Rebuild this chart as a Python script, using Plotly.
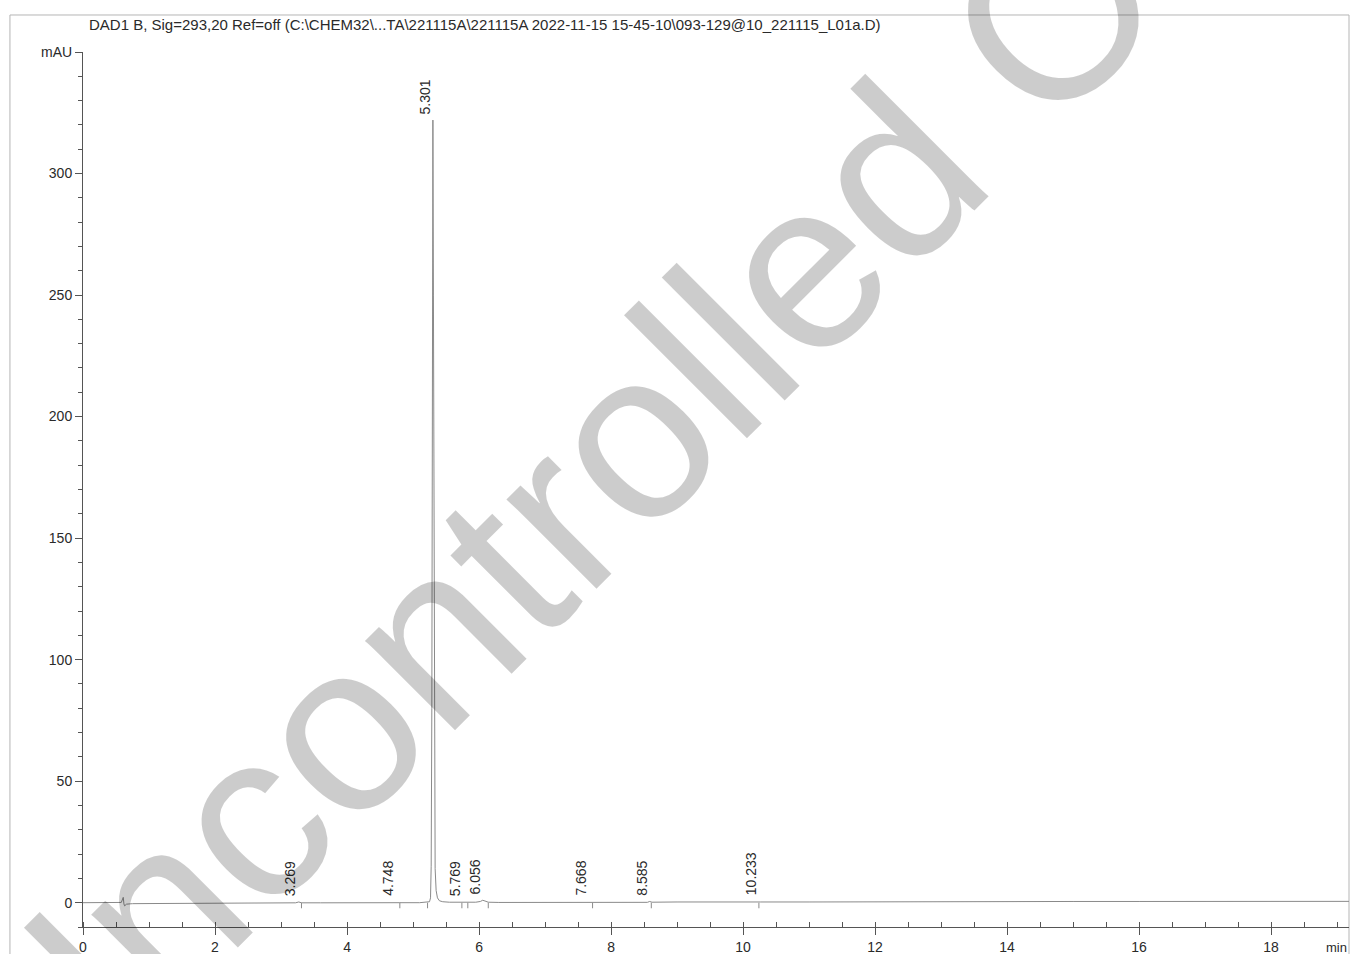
import plotly.graph_objects as go

# ---- data ----
time_min = [0.0, 0.50, 0.58, 0.60, 0.61, 0.62, 0.63, 0.66, 0.75, 1.0, 1.5, 2.0, 2.5, 3.0,
            3.22, 3.269, 3.31, 3.6, 4.2, 4.70, 4.748, 4.80, 5.10, 5.22, 5.25, 5.265, 5.275,
            5.285, 5.293, 5.301, 5.309, 5.317, 5.325, 5.335, 5.35, 5.37, 5.40, 5.45, 5.55,
            5.70, 5.769, 5.80, 5.95, 6.02, 6.056, 6.09, 6.14, 6.30, 7.0, 7.62, 7.668, 7.72,
            8.2, 8.55, 8.585, 8.62, 9.0, 9.5, 10.20, 10.233, 10.26, 11.0, 12.0, 13.0, 14.0,
            15.0, 16.0, 17.0, 18.0, 19.18]
signal_mau = [0.0, 0.0, 0.1, 1.5, 2.2, -0.5, -1.3, -0.6, -0.4, -0.35, -0.3, -0.2, -0.15, -0.1,
              -0.05, 0.3, -0.05, -0.05, 0.0, 0.0, 0.3, 0.0, 0.0, 0.1, 0.4, 2.0, 15.0,
              80.0, 230.0, 322.0, 250.0, 120.0, 45.0, 14.0, 5.0, 2.0, 0.8, 0.4, 0.2,
              0.15, 0.35, 0.2, 0.2, 0.5, 1.0, 0.7, 0.2, 0.1, 0.05, 0.05, 0.3, 0.05,
              0.1, 0.15, 0.5, 0.2, 0.3, 0.4, 0.3, 0.6, 0.3, 0.3, 0.4, 0.4, 0.45,
              0.5, 0.5, 0.5, 0.55, 0.55]

peak_rt = [3.269, 4.748, 5.301, 5.769, 6.056, 7.668, 8.585, 10.233]
peak_height = [0.3, 0.3, 322.0, 0.35, 1.0, 0.3, 0.5, 0.6]

marker_rt = [3.31, 4.80, 5.22, 5.74, 5.83, 6.14, 7.72, 8.61, 10.24]

y_tick_vals = [0, 50, 100, 150, 200, 250, 300, 350]
y_tick_text = ["0", "50", "100", "150", "200", "250", "300", "mAU"]
x_tick_vals = [0, 2, 4, 6, 8, 10, 12, 14, 16, 18]

title_text = ("DAD1 B, Sig=293,20 Ref=off (C:\\CHEM32\\...TA\\221115A\\221115A "
              "2022-11-15 15-45-10\\093-129@10_221115_L01a.D)")
watermark_text = "Uncontrolled Copy"

FONT = "Liberation Sans, Arial, sans-serif"

fig = go.Figure()

fig.add_trace(go.Scatter(x=time_min, y=signal_mau, mode="lines",
                         line=dict(color="#8a8a8a", width=1), hoverinfo="skip"))

# baseline markers (short ticks below baseline)
mx, my = [], []
for t in marker_rt:
    mx += [t, t, None]
    my += [0.0, -2.3, None]
fig.add_trace(go.Scatter(x=mx, y=my, mode="lines",
                         line=dict(color="#8a8a8a", width=1), hoverinfo="skip"))

# retention time labels
for rt, h in zip(peak_rt, peak_height):
    fig.add_annotation(x=rt, y=h, xref="x", yref="y", text=f"{rt:.3f}",
                       textangle=-90, xanchor="right", yanchor="bottom",
                       xshift=2, yshift=4, showarrow=False,
                       font=dict(family=FONT, size=14, color="#2a2a2a"))

# watermark
fig.add_annotation(x=9.13, y=214.4, xref="x", yref="y", text=watermark_text,
                   textangle=-45, xanchor="center", yanchor="middle", showarrow=False,
                   font=dict(family=FONT, size=240, color="rgba(0,0,0,0.2)"))

# title
fig.add_annotation(x=0.0035, y=1.031, xref="paper", yref="paper", text=title_text,
                   xanchor="left", yanchor="middle", showarrow=False,
                   font=dict(family=FONT, size=15, color="#2a2a2a"))

# unit label on x axis
fig.add_annotation(x=1.0, y=-10, xref="paper", yref="y", text="min",
                   xanchor="right", yanchor="top", yshift=-11, showarrow=False,
                   font=dict(family=FONT, size=13, color="#2a2a2a"))

# outer frame
fig.add_shape(type="rect", xref="paper", yref="paper",
              x0=-0.0577, x1=1.0, y0=-0.2, y1=1.0423,
              line=dict(color="#b5b5b5", width=1), layer="below")

fig.update_layout(
    width=1351, height=954,
    margin=dict(l=83, r=2, t=52, b=27, autoexpand=False),
    paper_bgcolor="white", plot_bgcolor="white",
    showlegend=False, template="none",
    font=dict(family=FONT, size=14, color="#2a2a2a"),
)
fig.update_xaxes(range=[0, 19.18], showgrid=False, zeroline=False,
                 showline=True, linecolor="#555555", linewidth=1,
                 tickvals=x_tick_vals, ticks="outside", ticklen=7,
                 tickcolor="#555555", automargin=False,
                 tickfont=dict(family=FONT, size=14, color="#2a2a2a"),
                 minor=dict(dtick=0.5, tick0=0, ticks="inside", ticklen=5,
                            tickcolor="#555555"))
fig.update_yaxes(range=[-10, 350], showgrid=False, zeroline=False,
                 showline=True, linecolor="#555555", linewidth=1,
                 tickvals=y_tick_vals, ticktext=y_tick_text,
                 ticks="outside", ticklen=7, tickcolor="#555555",
                 automargin=False,
                 tickfont=dict(family=FONT, size=14, color="#2a2a2a"),
                 minor=dict(dtick=10, tick0=0, ticks="outside", ticklen=4,
                            tickcolor="#555555"))

fig.write_html("out.html")
